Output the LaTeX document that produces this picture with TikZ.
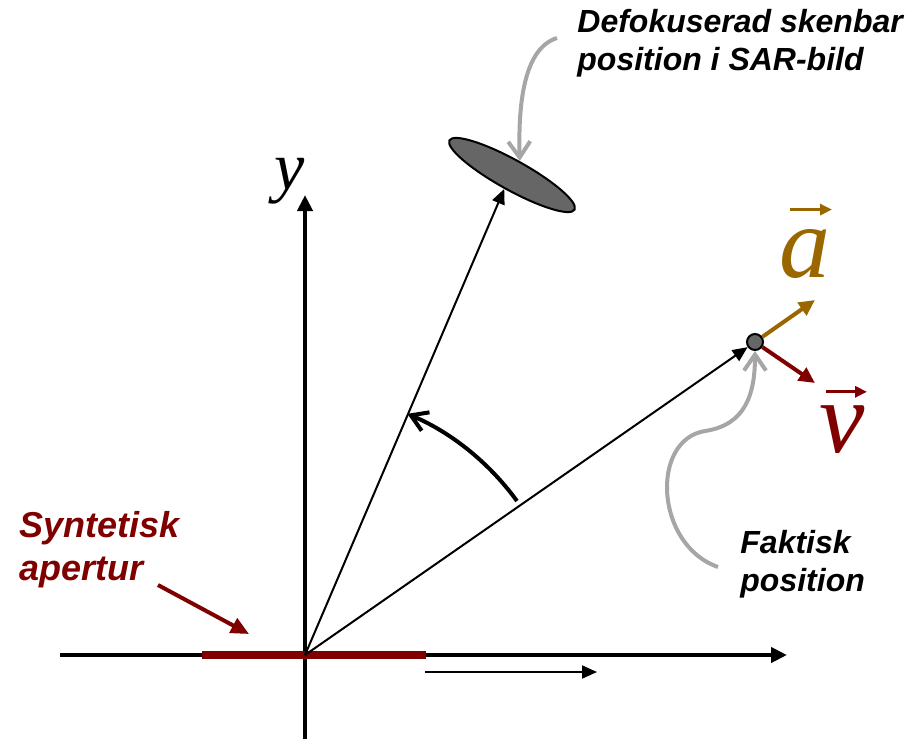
\documentclass[tikz,border=0pt]{standalone}
\usepackage{fontspec}
\setmainfont{Liberation Sans}
\newfontfamily\symfont{Liberation Serif}
\usetikzlibrary{arrows.meta,shapes.geometric}
\definecolor{darkred}{HTML}{800000}
\definecolor{gold}{HTML}{996600}
\definecolor{softgray}{HTML}{A6A6A6}
\definecolor{blobgray}{HTML}{666666}
\begin{document}
\begin{tikzpicture}[x=0.5pt,y=-0.5pt,>={Triangle[length=8pt,width=7.5pt]}]
  \tikzset{axis/.style={line width=2pt,->},
    ray/.style={line width=1pt,->,>={Triangle[length=7.5pt,width=6.5pt]}},
    note/.style={font=\fontsize{16}{19}\selectfont\bfseries\itshape, align=left, anchor=north west, inner sep=0pt},
    pointer/.style={softgray, line width=2pt, -{Straight Barb[length=8pt,width=11pt]}},
    sym/.style={font=\fontsize{51}{51}\selectfont\symfont\itshape, inner sep=0pt, anchor=base},
    vecbar/.style={line width=1.6pt, -{Triangle[length=6pt,width=5.5pt]}}}
  \useasboundingbox (0,0) rectangle (921,739);
  \coordinate (O) at (305,655);
  \coordinate (xl) at (60,655);
  \coordinate (xr) at (787,655);
  \coordinate (yb) at (305,739);
  \coordinate (yt) at (305,195);
  % axes and aperture
  \draw[axis] (xl) -- (xr);
  \draw[axis] (yb) -- (yt);
  \node[sym, font=\fontsize{34}{34}\selectfont\symfont\itshape] (ylab) at (290,189) {y};
  \coordinate (apl) at (202,655);
  \coordinate (apr) at (426,655);
  \draw[darkred, line width=4pt] (apl) -- (apr);
  \coordinate (mvs) at (425,672);
  \coordinate (mve) at (597,672);
  \draw[ray] (mvs) -- (mve);
  % target and its image
  \node[ellipse, draw, line width=1pt, fill=blobgray, minimum width=71.5pt, minimum height=15pt, inner sep=0pt, rotate=-29] (blob) at (512,175) {};
  \node[circle, draw, line width=1pt, fill=blobgray, minimum size=8pt, inner sep=0pt] (pt) at (755,342) {};
  \draw[ray] (O) -- (blob.south);
  \draw[ray] (O) -- (pt);
  \draw[line width=2pt, -{Straight Barb[length=8pt,width=10pt]}] ([shift={(O)}]-36:262) arc[start angle=-36, end angle=-67, radius=262];
  % acceleration and velocity
  \coordinate (atip) at (815,300);
  \coordinate (vtip) at (815,383);
  \draw[gold, line width=2pt, ->] (pt) -- (atip);
  \draw[darkred, line width=2pt, ->] (pt) -- (vtip);
  \node[sym, gold] (alab) at (805,277) {a};
  \draw[vecbar, gold] ([shift={(-15,-19)}]alab.north) -- ([shift={(27,-19)}]alab.north);
  \node[sym, darkred] (vlab) at (842,452) {v};
  \draw[vecbar, darkred] ([shift={(-16,-13)}]vlab.north) -- ([shift={(25,-13)}]vlab.north);
  % notes
  \node[note] (defok) at (577,9) {Defokuserad skenbar\\position i SAR-bild};
  \node[note] (fakt) at (740,530) {Faktisk\\position};
  \node[note, darkred, font=\fontsize{18}{21.5}\selectfont\bfseries\itshape] (synt) at (19,511) {Syntetisk\\apertur};
  \coordinate (defs) at (557,38);
  \draw[pointer] (defs) .. controls (525,48) and (518,100) .. (blob.north);
  \coordinate (fakts) at (718,567);
  \draw[pointer] (fakts) .. controls (655,545) and (650,440) .. (705,431) .. controls (745,425) and (755,395) .. (pt.south);
  \coordinate (synts) at (158,585);
  \coordinate (syntt) at (249,634);
  \draw[darkred, line width=2pt, -{Triangle[length=9pt,width=8pt]}] (synts) -- (syntt);
\end{tikzpicture}
\end{document}
